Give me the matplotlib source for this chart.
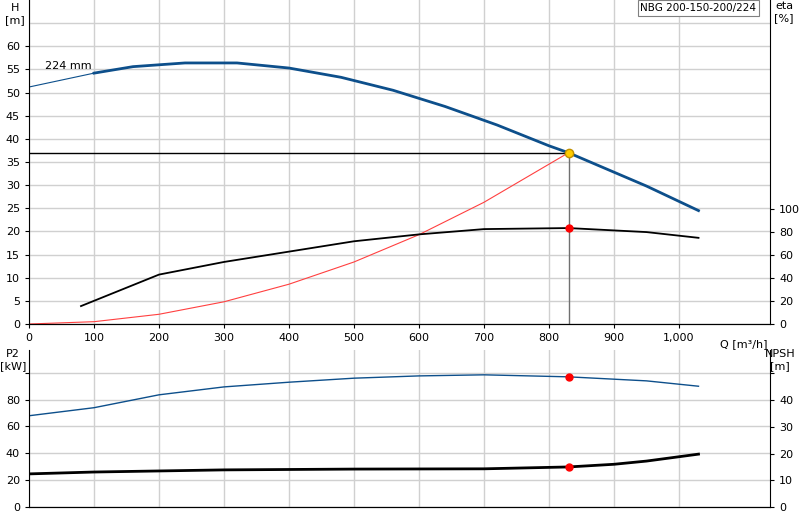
import matplotlib.pyplot as plt
import numpy as np

q_h = [0, 100, 160, 240, 320, 400, 480, 560, 640, 720, 800, 830, 880, 950, 1030]
h = [51.2, 54.2, 55.6, 56.4, 56.4, 55.3, 53.3, 50.5, 47.0, 43.0, 38.5, 37.0, 34.0, 29.8, 24.5]
q_eta = [80, 200, 300, 400, 500, 600, 700, 830, 950, 1030]
eta = [15.6, 43, 54, 63, 72, 78, 82.6, 83.5, 80, 75]
q_sys = [0, 100, 200, 300, 400, 500, 600, 700, 830]
h_sys = [0, 0.5, 2.1, 4.8, 8.6, 13.4, 19.3, 26.3, 37]
q_p2 = [0, 100, 200, 300, 400, 500, 600, 700, 830, 950, 1030]
p2 = [68, 74, 83.6, 89.5, 93, 96, 97.7, 98.5, 97, 94, 90]
q_npsh = [0, 100, 300, 500, 700, 830, 900, 950, 1030]
npsh = [12.4, 13.1, 13.9, 14.2, 14.3, 15, 16, 17.2, 19.8]
q_op, h_op, eta_op, p2_op, npsh_op = 830, 37, 83.5, 97, 15

blue = '#0d4f8b'
fig = plt.figure(figsize=(8, 5.2), dpi=100)
ax = fig.add_axes([29/800, 196/520, 741/800, 324/520])
ax2 = ax.twinx()
bx = fig.add_axes([29/800, 13/520, 741/800, 157/520])
bx2 = bx.twinx()

for a in (ax, bx):
    a.set_xlim(0, 1140)
    a.set_xticks(range(0, 1100, 100))
    a.grid(color='#d0d0d0', lw=1)
    a.tick_params(labelsize=8, length=3)
    for s in ('top', 'right'):
        a.spines[s].set_visible(False)
    a.set_axisbelow(True)
for a in (ax2, bx2):
    a.tick_params(labelsize=8, length=3)
    for s in ('top', 'left'):
        a.spines[s].set_visible(False)

ax.set_ylim(0, 70)
ax.set_yticks(range(0, 61, 5))
ax.set_yticks([65], minor=True)
ax.grid(which='minor', color='#d0d0d0', lw=1)
ax.tick_params(which='minor', length=0)
ax.set_xticklabels(['0'] + [str(v) for v in range(100, 1000, 100)] + ['1,000'])
ax2.set_ylim(0, 282)
ax2.set_yticks(range(0, 101, 20))

ax.plot(q_h[:2], h[:2], color=blue, lw=0.8)
ax.plot(q_h[1:], h[1:], color=blue, lw=2)
ax.plot(q_sys, h_sys, color='#ff4040', lw=0.8)
ax.plot([0, q_op], [h_op, h_op], color='black', lw=1)
ax.plot([q_op, q_op], [0, h_op], color='#707070', lw=1)
ax.plot(q_op, h_op, 'o', color='#ffcc00', mec='#c09000', ms=6, zorder=5)
ax2.plot(q_eta, eta, color='black', lw=1.3)
ax2.plot(q_op, eta_op, 'o', color='red', ms=5)
ax.text(25, 55, '224 mm', fontsize=8)
ax.text(1100, -3.3, 'Q [m³/h]', fontsize=8, ha='center', va='top')
fig.text(15/800, 1 - 14/520, 'H\n[m]', fontsize=8, ha='center', va='center')
fig.text(784/800, 1 - 12/520, 'eta\n[%]', fontsize=8, ha='center', va='center')
ax.text(0.825, 0.99, 'NBG 200-150-200/224', transform=ax.transAxes, fontsize=7.5, va='top',
        bbox=dict(facecolor='white', edgecolor='#808080', lw=0.8, pad=2))

bx.set_ylim(0, 117)
bx.set_yticks(range(0, 101, 20))
bx.set_yticklabels(['0', '20', '40', '60', '80', ''])
bx.set_xticklabels([])
bx.tick_params(axis='x', length=0)
bx2.set_ylim(0, 58.8)
bx2.set_yticks(range(0, 51, 10))
bx2.set_yticklabels(['0', '10', '20', '30', '40', ''])
bx.plot(q_p2, p2, color=blue, lw=1)
bx.plot(q_op, p2_op, 'o', color='red', ms=5)
bx2.plot(q_npsh, npsh, color='black', lw=2)
bx2.plot(q_op, npsh_op, 'o', color='red', ms=5)
fig.text(13/800, 1 - 360/520, 'P2\n[kW]', fontsize=8, ha='center', va='center')
fig.text(780/800, 1 - 360/520, 'NPSH\n[m]', fontsize=8, ha='center', va='center')

fig.savefig('out.png', dpi=100)
